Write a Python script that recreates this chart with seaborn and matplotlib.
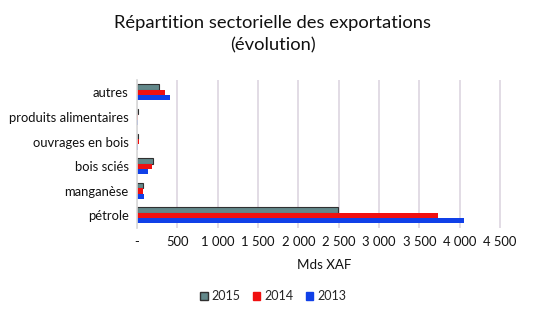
import matplotlib
matplotlib.use("Agg")
import matplotlib.pyplot as plt
import seaborn as sns
import pandas as pd
from matplotlib.ticker import FuncFormatter
from matplotlib.patches import Patch

categories = ["autres", "produits alimentaires", "ouvrages en bois", "bois sciés", "manganèse", "pétrole"]
years = ["2015", "2014", "2013"]
v2015 = [277, 15, 18, 196, 80, 2494]
v2014 = [349, 15, 22, 180, 68, 3726]
v2013 = [409, 15, 12, 140, 88, 4047]
xticks = [0, 500, 1000, 1500, 2000, 2500, 3000, 3500, 4000, 4500]

rows = []
for y, vals in zip(years, [v2015, v2014, v2013]):
    for c, v in zip(categories, vals):
        rows.append({"cat": c, "year": y, "val": v})
df = pd.DataFrame(rows)

sns.set_theme(style="white")
plt.rcParams['font.family'] = ['Lato', 'DejaVu Sans']

fig = plt.figure(figsize=(5.46, 3.24), dpi=100)
ax = fig.add_axes([0.251, 0.297, 0.687, 0.456])
palette = {"2015": "#62888a", "2014": "#f01010", "2013": "#1040e8"}
sns.barplot(data=df, y="cat", x="val", hue="year", hue_order=years, order=categories,
            palette=palette, orient="h", width=0.65, ax=ax, legend=False,
            edgecolor="none", saturation=1)
for p in ax.containers[0]:
    p.set_edgecolor("#303030")
    p.set_linewidth(0.8)

ax.set_xlim(0, 4650)
ax.set_xticks(xticks)
ax.xaxis.set_major_formatter(FuncFormatter(lambda v, p: "-" if v == 0 else f"{int(v):,}".replace(",", " ")))
ax.grid(axis="x", color="#ddd6e0", linewidth=1.2)
ax.set_axisbelow(True)
for s in ["top", "right", "bottom"]:
    ax.spines[s].set_visible(False)
ax.spines["left"].set_color("#d9d9d9")
ax.tick_params(axis="both", length=0, labelsize=9.4, pad=6, colors="#111111")
ax.set_ylabel("")
ax.set_xlabel("Mds XAF", fontsize=9.6, labelpad=8, color="#111111")

fig.text(0.5, 0.895, "Répartition sectorielle des exportations\n(évolution)",
         ha="center", va="center", fontsize=13.2, color="#111111", linespacing=1.45)

handles = [Patch(facecolor=palette[y], edgecolor="#303030" if y == "2015" else palette[y]) for y in years]
fig.legend(handles, years, loc="center", bbox_to_anchor=(0.5, 0.085), ncol=3, frameon=False,
           fontsize=9, handlelength=0.6, handleheight=0.6, columnspacing=1.0, handletextpad=0.3)

fig.savefig("out.png", dpi=100, facecolor="white")
